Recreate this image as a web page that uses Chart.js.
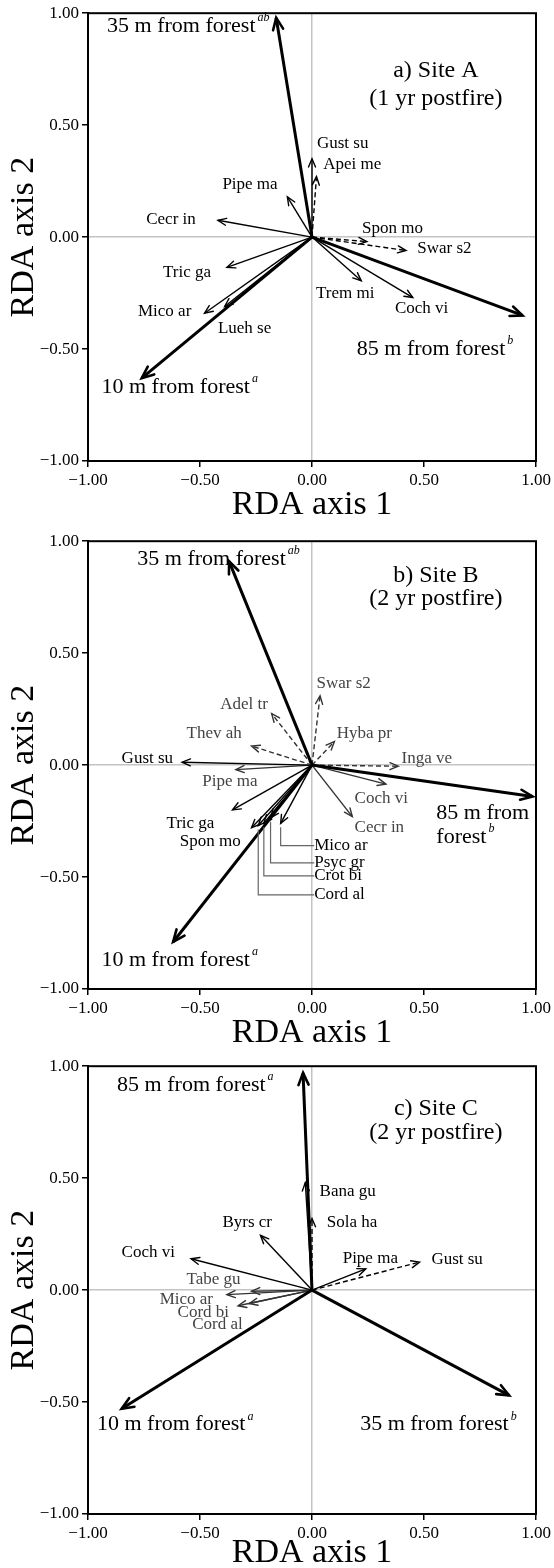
<!DOCTYPE html>
<html><head><meta charset="utf-8">
<script src="https://cdn.jsdelivr.net/npm/chart.js@4.4.1/dist/chart.umd.min.js"></script>
<style>
html,body{margin:0;padding:0;background:#fff;}
body{width:554px;height:1568px;position:relative;overflow:hidden;}
.p{position:absolute;left:0;width:554px;}
</style></head><body>
<div class="p" style="top:0;height:526px"><canvas id="cA"></canvas></div>
<div class="p" style="top:528px;height:526px"><canvas id="cB"></canvas></div>
<div class="p" style="top:1053px;height:526px"><canvas id="cC"></canvas></div>
<script>
// ---------- shared axis ticks ----------
const tickValues = [-1, -0.5, 0, 0.5, 1];
const axisTitleX = 'RDA axis 1';
const axisTitleY = 'RDA axis 2';

// ---------- Site A ----------
const titleA = ['a) Site A', '(1 yr postfire)'];
const envA = ['10 m from forest', '35 m from forest', '85 m from forest'];
const envSupA = ['a', 'ab', 'b'];
const envAx = [-0.76, -0.16, 0.94];
const envAy = [-0.63, 0.98, -0.35];
const sppA = ['Gust su', 'Apei me', 'Pipe ma', 'Cecr in', 'Spon mo', 'Swar s2', 'Tric ga', 'Mico ar', 'Lueh se', 'Trem mi', 'Coch vi'];
const sppAx = [0.00, 0.02, -0.11, -0.42, 0.245, 0.42, -0.38, -0.48, -0.39, 0.22, 0.45];
const sppAy = [0.35, 0.27, 0.18, 0.075, -0.02, -0.06, -0.135, -0.34, -0.31, -0.195, -0.27];
const dashedA = ['Apei me', 'Spon mo', 'Swar s2'];
const greyA = [];

// ---------- Site B ----------
const titleB = ['b) Site B', '(2 yr postfire)'];
const envB = ['10 m from forest', '35 m from forest', '85 m from forest'];
const envSupB = ['a', 'ab', 'b'];
const envBx = [-0.62, -0.37, 0.985];
const envBy = [-0.79, 0.91, -0.14];
const sppB = ['Swar s2', 'Adel tr', 'Thev ah', 'Hyba pr', 'Gust su', 'Inga ve', 'Pipe ma', 'Coch vi', 'Cecr in', 'Tric ga', 'Spon mo', 'Mico ar', 'Psyc gr', 'Crot bi', 'Cord al'];
const sppBx = [0.036, -0.18, -0.27, 0.10, -0.58, 0.385, -0.34, 0.33, 0.18, -0.355, -0.27, -0.14, -0.185, -0.215, -0.24];
const sppBy = [0.31, 0.23, 0.085, 0.105, 0.013, -0.005, -0.02, -0.085, -0.23, -0.20, -0.28, -0.26, -0.235, -0.26, -0.27];
const dashedB = ['Swar s2', 'Adel tr', 'Thev ah', 'Hyba pr', 'Inga ve'];
const greyB = ['Swar s2', 'Adel tr', 'Thev ah', 'Hyba pr', 'Inga ve', 'Pipe ma', 'Coch vi', 'Cecr in'];
const leaderB = ['Mico ar', 'Psyc gr', 'Crot bi', 'Cord al'];

// ---------- Site C ----------
const titleC = ['c) Site C', '(2 yr postfire)'];
const envC = ['10 m from forest', '35 m from forest', '85 m from forest'];
const envSupC = ['a', 'b', 'a'];
const envCx = [-0.85, 0.88, -0.04];
const envCy = [-0.53, -0.47, 0.97];
const sppC = ['Bana gu', 'Sola ha', 'Byrs cr', 'Coch vi', 'Pipe ma', 'Gust su', 'Tabe gu', 'Mico ar', 'Cord bi', 'Cord al'];
const sppCx = [-0.03, 0.0, -0.23, -0.54, 0.24, 0.48, -0.27, -0.38, -0.33, -0.28];
const sppCy = [0.48, 0.32, 0.245, 0.14, 0.095, 0.125, -0.005, -0.02, -0.07, -0.06];
const dashedC = ['Sola ha', 'Gust su'];
const greyC = ['Tabe gu', 'Mico ar', 'Cord bi', 'Cord al'];

// ---------- label placement (data units) ----------
const titlePosA = [0.553, 0.745, 0.62];
const titlePosB = [0.553, 0.848, 0.741];
const titlePosC = [0.553, 0.81, 0.705];
const envLabXA = [-0.94, -0.915, 0.20];
const envLabYA = [-0.67, 0.942, -0.50];
const sppLabXA = [0.022, 0.05, -0.40, -0.74, 0.223, 0.47, -0.665, -0.777, -0.42, 0.018, 0.37];
const sppLabYA = [0.42, 0.325, 0.235, 0.08, 0.04, -0.053, -0.16, -0.333, -0.41, -0.25, -0.32];
const envLabXB = [-0.94, -0.78, 0.555];
const envLabYB = [-0.87, 0.92, -0.215];
const sppLabXB = [0.02, -0.41, -0.56, 0.11, -0.85, 0.40, -0.49, 0.19, 0.19, -0.65, -0.59, 0.01, 0.01, 0.01, 0.01];
const sppLabYB = [0.365, 0.27, 0.14, 0.14, 0.03, 0.03, -0.075, -0.15, -0.28, -0.26, -0.34, -0.36, -0.437, -0.495, -0.58];
const envLabXC = [-0.96, 0.215, -0.87];
const envLabYC = [-0.60, -0.60, 0.915];
const sppLabXC = [0.034, 0.066, -0.40, -0.85, 0.137, 0.533, -0.56, -0.68, -0.60, -0.535];
const sppLabYC = [0.44, 0.30, 0.30, 0.17, 0.14, 0.135, 0.045, -0.04, -0.10, -0.155];

const SERIF = '"Liberation Serif", "DejaVu Serif", serif';
const FS = {tick: 17, spp: 17, env: 22, title: 24, axis: 34};

function fmtTick(v) {
  const s = Math.abs(v).toFixed(2);
  return v < -1e-9 ? '\u2212' + s : s;
}

function makePanel(canvasId, H, P) {
  const datasets = [];
  P.env.forEach((n, i) => datasets.push({
    label: n, kind: 'env',
    data: [{x: 0, y: 0}, {x: P.envX[i], y: P.envY[i]}],
    borderColor: '#000', borderWidth: 3, borderDash: []
  }));
  P.spp.forEach((n, i) => {
    const dashed = P.dashed.includes(n);
    datasets.push({
      label: n, kind: 'spp',
      data: [{x: 0, y: 0}, {x: P.sppX[i], y: P.sppY[i]}],
      borderColor: P.grey.includes(n) ? '#333' : '#000', borderWidth: 1.4,
      borderDash: dashed ? [5, 3] : []
    });
  });
  datasets.forEach(d => { d.showLine = true; d.pointRadius = 0; d.pointHoverRadius = 0; d.fill = false; d.tension = 0; });

  const vecPlugin = {
    id: 'vec' + canvasId,
    afterDatasetsDraw(chart) {
      const ctx = chart.ctx;
      const xs = chart.scales.x, ys = chart.scales.y;
      if (P.leaders) {
        ctx.save();
        ctx.strokeStyle = '#666'; ctx.lineWidth = 1.2;
        P.leaders.forEach(n => {
          const i = P.spp.indexOf(n);
          const tx = xs.getPixelForValue(P.sppX[i]);
          const ty = ys.getPixelForValue(P.sppY[i]);
          const ly = ys.getPixelForValue(P.sppLabY[i]);
          const lx = xs.getPixelForValue(P.sppLabX[i]);
          ctx.beginPath();
          ctx.moveTo(tx, ty + 4);
          ctx.lineTo(tx, ly);
          ctx.lineTo(lx, ly);
          ctx.stroke();
        });
        ctx.restore();
      }
      chart.data.datasets.forEach((ds, i) => {
        const meta = chart.getDatasetMeta(i);
        const p0 = meta.data[0], p1 = meta.data[1];
        const ang = Math.atan2(p1.y - p0.y, p1.x - p0.x);
        const L = ds.kind === 'env' ? 13 : 9;
        const a = 0.40;
        ctx.save();
        ctx.strokeStyle = ds.borderColor;
        ctx.lineWidth = ds.kind === 'env' ? 2.6 : 1.4;
        ctx.setLineDash([]);
        ctx.lineCap = 'round';
        ctx.beginPath();
        ctx.moveTo(p1.x - L * Math.cos(ang - a), p1.y - L * Math.sin(ang - a));
        ctx.lineTo(p1.x, p1.y);
        ctx.lineTo(p1.x - L * Math.cos(ang + a), p1.y - L * Math.sin(ang + a));
        ctx.stroke();
        ctx.restore();
      });
      ctx.save();
      ctx.textBaseline = 'middle';
      ctx.textAlign = 'left';
      ctx.font = FS.spp + 'px ' + SERIF;
      P.spp.forEach((n, i) => {
        ctx.fillStyle = P.grey.includes(n) ? '#444' : '#000';
        ctx.fillText(n, xs.getPixelForValue(P.sppLabX[i]), ys.getPixelForValue(P.sppLabY[i]));
      });
      ctx.fillStyle = '#000';
      P.env.forEach((n, i) => {
        const x = xs.getPixelForValue(P.envLabX[i]);
        const y = ys.getPixelForValue(P.envLabY[i]);
        let lines = [n];
        if (P.envBreak && P.envBreak[i]) {
          const cut = n.indexOf(' forest');
          lines = [n.slice(0, cut), n.slice(cut + 1)];
        }
        lines.forEach((t, k) => {
          ctx.font = FS.env + 'px ' + SERIF;
          ctx.fillText(t, x, y + k * 24);
          if (k === lines.length - 1) {
            const w = ctx.measureText(t).width;
            ctx.font = 'italic ' + Math.round(FS.env * 0.55) + 'px ' + SERIF;
            ctx.fillText(P.envSup[i], x + w + 2, y + k * 24 - 8);
          }
        });
      });
      ctx.textAlign = 'center';
      ctx.font = FS.title + 'px ' + SERIF;
      const tx = xs.getPixelForValue(P.titlePos[0]);
      ctx.fillText(P.title[0], tx, ys.getPixelForValue(P.titlePos[1]));
      ctx.fillText(P.title[1], tx, ys.getPixelForValue(P.titlePos[2]));
      ctx.restore();
    },
    afterDraw(chart) {
      const a = chart.chartArea, ctx = chart.ctx;
      ctx.save();
      ctx.strokeStyle = '#000'; ctx.lineWidth = 2;
      ctx.strokeRect(a.left, a.top, a.right - a.left, a.bottom - a.top);
      ctx.restore();
    }
  };

  const axisCommon = (isX) => ({
    type: 'linear', min: -1, max: 1,
    afterBuildTicks: s => { s.ticks = tickValues.map(v => ({value: v})); },
    ticks: {
      callback: v => fmtTick(v), color: '#000', padding: 3,
      font: {family: SERIF, size: FS.tick}, maxRotation: 0, autoSkip: false
    },
    grid: {
      color: c => (c.tick && Math.abs(c.tick.value) < 1e-9) ? '#c4c4c4' : 'rgba(0,0,0,0)',
      lineWidth: 1.5, drawTicks: true, tickLength: 6, tickColor: '#000', tickWidth: 1.5
    },
    border: {display: true, color: '#000', width: 2},
    title: {
      display: true, text: isX ? axisTitleX : axisTitleY, color: '#000',
      font: {family: SERIF, size: FS.axis},
      padding: isX ? {top: 0, bottom: P.xTitlePad} : {top: 4, bottom: 0}
    }
  });

  const el = document.getElementById(canvasId);
  el.parentNode.style.height = H + 'px';
  return new Chart(el, {
    type: 'scatter',
    data: {datasets},
    options: {
      responsive: true, maintainAspectRatio: false, animation: false,
      devicePixelRatio: 1,
      layout: {padding: {top: 11, right: 18, left: 0, bottom: 0}},
      plugins: {legend: {display: false}, tooltip: {enabled: false}},
      scales: {
        x: Object.assign(axisCommon(true), {afterFit: s => { s.height = H - 11 - 450; }}),
        y: Object.assign(axisCommon(false), {afterFit: s => { s.width = 88; }})
      }
    },
    plugins: [vecPlugin]
  });
}

makePanel('cA', 526, {
  title: titleA, titlePos: titlePosA,
  env: envA, envSup: envSupA, envX: envAx, envY: envAy, envLabX: envLabXA, envLabY: envLabYA,
  spp: sppA, sppX: sppAx, sppY: sppAy, sppLabX: sppLabXA, sppLabY: sppLabYA, dashed: dashedA, grey: greyA,
  xTitlePad: 1
});
makePanel('cB', 526, {
  title: titleB, titlePos: titlePosB,
  env: envB, envSup: envSupB, envX: envBx, envY: envBy, envLabX: envLabXB, envLabY: envLabYB,
  envBreak: [0, 0, 1],
  spp: sppB, sppX: sppBx, sppY: sppBy, sppLabX: sppLabXB, sppLabY: sppLabYB, dashed: dashedB, grey: greyB,
  leaders: leaderB, xTitlePad: 1
});
makePanel('cC', 526, {
  title: titleC, titlePos: titlePosC,
  env: envC, envSup: envSupC, envX: envCx, envY: envCy, envLabX: envLabXC, envLabY: envLabYC,
  spp: sppC, sppX: sppCx, sppY: sppCy, sppLabX: sppLabXC, sppLabY: sppLabYC, dashed: dashedC, grey: greyC,
  xTitlePad: 6
});
</script>
</body></html>
